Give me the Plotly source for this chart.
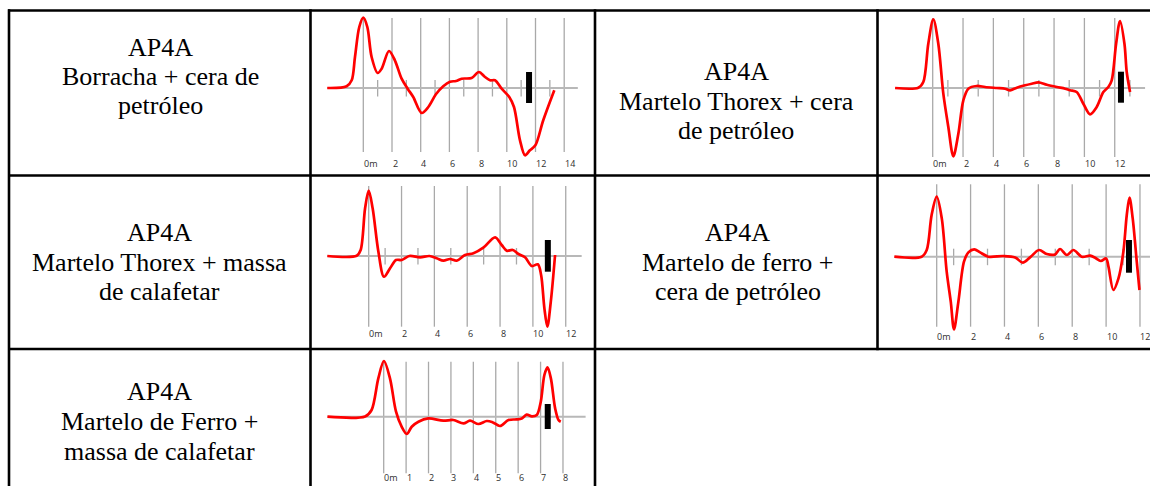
import plotly.graph_objects as go

W, H = 1150, 486

# ---------------- data ----------------
# distance (m) and relative amplitude of each trace
p1_dist = [-2.51, -1.16, -0.81, -0.58, -0.28, 0.0, 0.28, 0.58, 1.0, 1.28, 1.79, 2.2, 2.67, 3.09, 3.48,
           4.07, 4.53, 5.06, 5.57, 6.04, 6.46, 6.85, 7.55, 8.06, 8.48, 8.83, 9.18, 9.64, 10.17, 10.5,
           10.92, 11.27, 11.61, 11.99, 12.54, 13.31]
p1_amp = [0, 0.17, 0.77, 3.1, 6.1, 7.03, 6.1, 3.1, 1.5, 1.93, 3.7, 2.77, 0.93, -0.07, -0.9,
          -2.5, -1.9, -0.63, 0.17, 0.63, 0.7, 0.93, 1.0, 1.6, 1.1, 0.77, 0.77, -0.07, -0.9, -1.9,
          -5.23, -6.73, -6.23, -5.73, -3.23, -0.23]

p2_dist = [-2.48, -0.95, -0.62, -0.29, 0.04, 0.37, 0.7, 1.03, 1.36, 1.69, 2.02, 2.35, 2.9, 3.45,
           4.22, 4.77, 5.1, 5.54, 6.09, 6.53, 6.97, 7.52, 8.18, 8.73, 9.05, 9.49, 9.93, 10.37,
           10.81, 11.25, 11.58, 11.8, 12.09, 12.35, 12.64, 12.79, 13.01]
p2_amp = [0, 0.03, 0.6, 4.43, 6.87, 4.43, -0.57, -3.9, -6.83, -4.57, -1.23, -0.07, 0.2, 0.1,
          0, -0.07, -0.23, 0.03, 0.27, 0.43, 0.57, 0.33, 0.1, -0.07, -0.23, -0.4, -1.57, -2.63,
          -1.9, -0.4, 0.1, 0.77, 4.43, 6.7, 4.43, 1.6, -0.4]

p3_dist = [-2.52, -0.73, -0.49, -0.22, 0.0, 0.24, 0.59, 0.93, 1.3, 1.66, 2.01, 2.48, 3.13, 3.7,
           4.14, 4.55, 4.95, 5.36, 5.87, 6.38, 6.98, 7.7, 8.1, 8.41, 8.77, 9.12, 9.52, 9.93,
           10.3, 10.5, 10.7, 10.88, 11.09, 11.35]
p3_amp = [0, 0.03, 0.6, 4.77, 6.53, 4.77, 0.43, -2.07, -1.23, -0.4, -0.4, 0, -0.13, 0,
          -0.23, -0.47, -0.3, -0.47, 0.1, 0.27, 0.83, 1.87, 1.1, 0.53, 0.6, 0.2, -0.13, -1.0,
          -0.83, -1.9, -5.23, -7.07, -4.57, 0.1]

p4_dist = [-2.5, -0.89, -0.59, -0.3, 0.0, 0.3, 0.59, 0.83, 1.02, 1.28, 1.61, 1.87, 2.22, 2.56,
           3.05, 3.94, 4.63, 5.08, 5.51, 6.04, 6.5, 6.99, 7.28, 7.68, 8.07, 8.56, 9.06, 9.35,
           9.69, 10.0, 10.14, 10.43, 10.73, 11.02, 11.22, 11.38, 11.57, 11.81, 11.97]
p4_amp = [0, 0, 0.67, 4.17, 6.0, 3.83, -1.5, -4.5, -7.27, -4.5, -0.5, 0.43, 0.73, 0.43,
          0, 0.07, -0.07, -0.6, -0.07, 0.67, 0.27, 0.23, 0.77, 0.17, 0.67, 0, 0.1, -0.1,
          -0.43, -0.17, -1.0, -3.33, -2.17, 0.5, 4.17, 5.9, 3.83, -0.5, -3.33]

p5_dist = [-2.51, -0.83, -0.54, -0.24, 0.01, 0.28, 0.55, 0.8, 1.03, 1.25, 1.55, 1.99, 2.66,
           3.11, 3.56, 3.85, 4.23, 4.6, 4.87, 5.19, 5.57, 5.94, 6.16, 6.38, 6.61, 6.83, 7.01,
           7.17, 7.31, 7.46, 7.65, 7.8, 7.9]
p5_amp = [0, 0.03, 0.67, 3.83, 5.57, 3.83, 0.5, -1.0, -1.73, -1.0, -0.5, -0.17, -0.4,
          -0.33, -0.67, -0.4, -0.73, -0.43, -0.57, -0.93, -0.33, -0.27, -0.17, 0.2, 0.03, 0.17, 1.5,
          4.17, 4.93, 3.83, 0.83, -0.33, -0.5]

# axis ticks / labels
ticks_1 = [0, 2, 4, 6, 8, 10, 12, 14]
labels_1 = ["0m", "2", "4", "6", "8", "10", "12", "14"]
minor_1 = [1, 3, 5, 7, 9, 11, 13]

ticks_2 = [0, 2, 4, 6, 8, 10, 12]
labels_2 = ["0m", "2", "4", "6", "8", "10", "12"]
minor_2 = [1, 3, 5, 7, 9, 11, 13]

ticks_3 = [0, 2, 4, 6, 8, 10, 12]
labels_3 = ["0m", "2", "4", "6", "8", "10", "12"]
minor_3 = [1, 3, 5, 7, 9, 11]

ticks_4 = [0, 2, 4, 6, 8, 10, 12]
labels_4 = ["0m", "2", "4", "6", "8", "10", "12"]
minor_4 = [1, 3, 5, 7, 9, 11]

ticks_5 = [0, 1, 2, 3, 4, 5, 6, 7, 8]
labels_5 = ["0m", "1", "2", "3", "4", "5", "6", "7", "8"]
minor_5 = []

# position of the black marker on each trace (m)
marker_1 = 11.55
marker_2 = 12.41
marker_3 = 10.91
marker_4 = 11.35
marker_5 = 7.32

# table text
titles_1 = ["AP4A", "Borracha + cera de", "petróleo"]
titles_2 = ["AP4A", "Martelo Thorex + cera", "de petróleo"]
titles_3 = ["AP4A", "Martelo Thorex + massa", "de calafetar"]
titles_4 = ["AP4A", "Martelo de ferro +", "cera de petróleo"]
titles_5 = ["AP4A", "Martelo de Ferro +", "massa de calafetar"]

# ---------------- layout / style configuration ----------------
RED = "#ff0000"
GRID = "#a9a9a9"
BASE = "#b8b8b8"
SY = 10.0  # px per amplitude unit

panels = [
    dict(x=p1_dist, y=p1_amp, ticks=ticks_1, labels=labels_1, minor=minor_1, marker=marker_1,
         box=(313, 593, 12, 173), origin=(363.3, 88), ppm=14.35, axis_end=14.95,
         grid=(7.0, -6.4), label_y=-7.55, bar=(1.6, -1.5)),
    dict(x=p2_dist, y=p2_amp, ticks=ticks_2, labels=labels_2, minor=minor_2, marker=marker_2,
         box=(880, 1150, 12, 173), origin=(932.7, 88), ppm=15.17, axis_end=14.0,
         grid=(7.0, -6.9), label_y=-7.53, bar=(1.63, -1.47)),
    dict(x=p3_dist, y=p3_amp, ticks=ticks_3, labels=labels_3, minor=minor_3, marker=marker_3,
         box=(313, 593, 177, 347), origin=(368.7, 256), ppm=16.42, axis_end=12.97,
         grid=(7.0, -7.07), label_y=-7.73, bar=(1.6, -1.57)),
    dict(x=p4_dist, y=p4_amp, ticks=ticks_4, labels=labels_4, minor=minor_4, marker=marker_4,
         box=(880, 1150, 177, 347), origin=(936.7, 256.7), ppm=16.94, axis_end=12.8,
         grid=(7.24, -7.0), label_y=-8.0, bar=(1.67, -1.6)),
    dict(x=p5_dist, y=p5_amp, ticks=ticks_5, labels=labels_5, minor=minor_5, marker=marker_5,
         box=(313, 593, 351, 486), origin=(383.7, 416.7), ppm=22.41, axis_end=9.01,
         grid=(5.5, -5.66), label_y=-6.06, bar=(1.27, -1.23)),
]

text_cells = [
    dict(lines=titles_1, cx=160, baselines=[56.7, 85.5, 114.5]),
    dict(lines=titles_2, cx=736, baselines=[80, 110, 139]),
    dict(lines=titles_3, cx=159.5, baselines=[241.7, 271.7, 300.5]),
    dict(lines=titles_4, cx=737.5, baselines=[241.7, 271.7, 300.5]),
    dict(lines=titles_5, cx=159.5, baselines=[400.7, 430.5, 460]),
]

fig = go.Figure()
annotations = []
shapes = []


def px_x(p):
    return p / W


def px_y(p):
    return 1 - p / H


for i, p in enumerate(panels, start=1):
    xa = "x" if i == 1 else f"x{i}"
    ya = "y" if i == 1 else f"y{i}"
    x0px, basepx = p["origin"]
    sx = p["ppm"]
    bx1, bx2, by1, by2 = p["box"]
    xr = [(bx1 - x0px) / sx, (bx2 - x0px) / sx]
    yr = [(basepx - by2) / SY, (basepx - by1) / SY]
    fig.update_layout({
        ("xaxis" if i == 1 else f"xaxis{i}"): dict(domain=[px_x(bx1), px_x(bx2)], range=xr,
                                                   visible=False, anchor=ya, fixedrange=True),
        ("yaxis" if i == 1 else f"yaxis{i}"): dict(domain=[px_y(by2), px_y(by1)], range=yr,
                                                   visible=False, anchor=xa, fixedrange=True),
    })
    gtop, gbot = p["grid"]
    # gridlines
    gx, gy = [], []
    for t in p["ticks"]:
        gx += [t, t, None]
        gy += [gbot, gtop, None]
    fig.add_trace(go.Scatter(x=gx, y=gy, mode="lines", line=dict(color=GRID, width=1.3),
                             xaxis=xa, yaxis=ya, hoverinfo="skip"))
    # minor ticks
    if p["minor"]:
        mx, my = [], []
        for t in p["minor"]:
            mx += [t, t, None]
            my += [-0.85, 0.8, None]
        fig.add_trace(go.Scatter(x=mx, y=my, mode="lines", line=dict(color=GRID, width=1.3),
                                 xaxis=xa, yaxis=ya, hoverinfo="skip"))
    # baseline
    fig.add_trace(go.Scatter(x=[p["x"][0], p["axis_end"]], y=[0, 0], mode="lines",
                             line=dict(color=BASE, width=2), xaxis=xa, yaxis=ya, hoverinfo="skip"))
    # signal
    fig.add_trace(go.Scatter(x=p["x"], y=p["y"], mode="lines",
                             line=dict(color=RED, width=2.7, shape="spline", smoothing=0.9),
                             xaxis=xa, yaxis=ya))
    # marker bar
    fig.add_trace(go.Scatter(x=[p["marker"], p["marker"]], y=[p["bar"][1], p["bar"][0]],
                             mode="lines", line=dict(color="black", width=6),
                             xaxis=xa, yaxis=ya, hoverinfo="skip"))
    # tick labels
    for t, lab in zip(p["ticks"], p["labels"]):
        annotations.append(dict(x=t, y=p["label_y"], xref=xa, yref=ya, text=lab, showarrow=False,
                                xanchor="left", yanchor="middle", xshift=-1.5,
                                font=dict(family="Open Sans", size=9, color="#2e2e2e")))

# table text
FS = 26
for c in text_cells:
    for line, bl in zip(c["lines"], c["baselines"]):
        annotations.append(dict(x=px_x(c["cx"]), y=px_y(bl - 0.3375 * FS), xref="paper", yref="paper",
                                text=line, showarrow=False, xanchor="center", yanchor="middle",
                                font=dict(family="Liberation Serif", size=FS, color="black")))

# table borders
LW = 2.6
hlines = [(10.5, 8, 1155), (175.5, 8, 1155), (349, 8, 1155)]
vlines = [(9, 9.3, 490), (310.5, 9.3, 490), (595, 9.3, 490), (877.5, 9.3, 350.2)]
for y, xa_, xb_ in hlines:
    shapes.append(dict(type="line", xref="paper", yref="paper", x0=px_x(xa_), x1=px_x(xb_),
                       y0=px_y(y), y1=px_y(y), line=dict(color="black", width=LW)))
for x, ya_, yb_ in vlines:
    shapes.append(dict(type="line", xref="paper", yref="paper", x0=px_x(x), x1=px_x(x),
                       y0=px_y(ya_), y1=px_y(yb_), line=dict(color="black", width=LW)))

fig.update_layout(
    width=W, height=H, margin=dict(l=0, r=0, t=0, b=0, pad=0),
    paper_bgcolor="white", plot_bgcolor="rgba(0,0,0,0)",
    showlegend=False, annotations=annotations, shapes=shapes,
)

fig.write_html("out.html", config={"displayModeBar": False},
               post_script="document.body.style.margin='0px';document.body.style.overflow='hidden';")
